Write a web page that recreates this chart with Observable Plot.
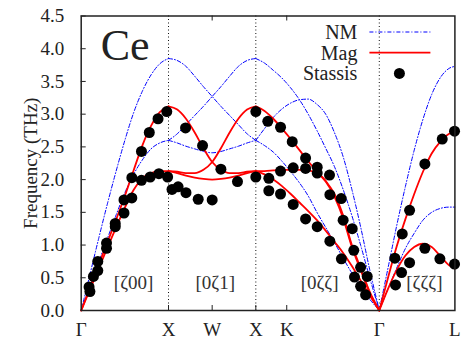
<!DOCTYPE html>
<html><head><meta charset="utf-8">
<script src="https://cdn.jsdelivr.net/npm/d3@7"></script>
<script src="https://cdn.jsdelivr.net/npm/@observablehq/plot@0.6"></script>
<style>
body{margin:0;background:#fff}
#chart{position:absolute;left:0;top:0}
#chart svg, #chart svg text{font-family:"Liberation Serif","Times New Roman",serif}
</style>
</head><body><div id="chart"></div>
<script>
const FONT = "Liberation Serif, Times New Roman, serif";

// high-symmetry points along the path (Γ-X-W-X-K-Γ-L)
const symLabels = ["Γ","X","W","X","K","Γ","L"];
const symPos    = [0, 1, 1.5, 2, 2.354, 3.414, 4.280];
const dottedPos = [1, 2, 3.414];
const bottomTickPos = [1, 1.5, 2, 2.354];
const topTickPos = [1.5, 2.354];
const yTicks = [0,0.5,1,1.5,2,2.5,3,3.5,4,4.5];

// direction labels
const dirLabels = ["[ζ00]","[0ζ1]","[0ζζ]","[ζζζ]"];
const dirPos    = [0.6, 1.535, 2.73, 3.93];

// Γ-X
const qGX     = [0,0.1,0.2,0.3,0.4,0.5,0.6,0.7,0.8,0.9,1.0];
const nmGX_L  = [0,0.55,1.1,1.63,2.13,2.6,3.02,3.35,3.6,3.77,3.85];
const nmGX_T  = [0,0.37,0.74,1.1,1.46,1.8,2.08,2.3,2.47,2.56,2.6];
const magGX_L = [0,0.35,0.7,1.04,1.39,1.75,2.14,2.52,2.82,3.03,3.12];
const magGX_T = [0,0.32,0.64,0.96,1.27,1.57,1.84,2.02,2.1,2.13,2.13];

// X-W-X
const qXWX     = [1.0,1.1,1.2,1.3,1.4,1.5,1.6,1.7,1.8,1.9,2.0];
const nmXWX_A  = [3.85,3.82,3.73,3.58,3.42,3.27,3.12,2.98,2.84,2.7,2.6];
const nmXWX_B  = [2.6,2.7,2.84,2.98,3.12,3.27,3.42,3.58,3.73,3.82,3.85];
const nmXWX_C  = [2.6,2.56,2.51,2.47,2.43,2.41,2.43,2.47,2.51,2.56,2.6];
const magXWX_P = [3.12,3.07,2.93,2.72,2.48,2.27,2.15,2.1,2.1,2.12,2.13];
const magXWX_Q = [2.13,2.12,2.1,2.1,2.15,2.27,2.48,2.72,2.93,3.07,3.12];
const magXWX_R = [2.13,2.1,2.06,2.03,2.01,2.0,2.01,2.03,2.06,2.1,2.13];

// X-K-Γ
const qXG     = [2.0,2.1,2.2,2.3,2.4,2.5,2.6,2.7,2.8,2.9,3.0,3.1,3.2,3.3,3.414];
const nmXG_a  = [3.85,3.78,3.67,3.55,3.4,3.22,3.0,2.75,2.48,2.2,1.85,1.45,1.0,0.52,0];
const nmXG_b  = [2.6,2.78,2.95,3.08,3.17,3.22,3.23,3.15,3.0,2.72,2.35,1.85,1.28,0.65,0];
const nmXG_c  = [2.6,2.52,2.42,2.28,2.12,1.95,1.75,1.5,1.27,1.04,0.8,0.57,0.36,0.18,0];
const magXG_a = [3.12,3.05,2.93,2.78,2.62,2.45,2.28,2.12,1.98,1.78,1.45,1.0,0.65,0.3,0];
const magXG_b = [2.13,2.13,2.14,2.15,2.15,2.15,2.14,2.1,1.97,1.74,1.41,0.97,0.62,0.28,0];
const magXG_c = [2.13,2.08,2.0,1.9,1.78,1.65,1.52,1.38,1.22,1.05,0.88,0.68,0.46,0.24,0];

// Γ-L
const qGL     = [3.414,3.514,3.614,3.714,3.814,3.914,4.014,4.114,4.214,4.280];
const nmGL_L  = [0,0.65,1.3,1.9,2.45,2.92,3.3,3.56,3.7,3.73];
const nmGL_T  = [0,0.33,0.65,0.95,1.18,1.38,1.5,1.56,1.58,1.58];
const magGL_L = [0,0.5,0.98,1.4,1.78,2.12,2.4,2.58,2.7,2.73];
const magGL_T = [0,0.33,0.62,0.84,0.97,1.02,0.97,0.83,0.69,0.64];

// Stassis experimental points
const expQ = [0.09,0.10,0.14,0.19,0.19,0.29,0.29,0.39,0.39,0.49,0.49,0.58,0.58,0.69,0.79,0.89,0.99,0.69,0.78,0.88,0.98,
  1.04,1.11,1.2,1.34,1.5,1.195,1.39,1.60,1.79,2.0,2.0,
  2.137,2.283,2.417,2.57,2.703,2.703,2.844,2.57,2.428,2.283,2.149,2.149,2.283,2.428,2.57,2.703,2.848,2.98,3.13,3.2,3.257,2.848,2.978,3.0,3.104,3.122,3.2,3.276,
  4.276,4.135,3.936,3.761,3.677,3.592,3.669,3.6,3.761,3.936,4.108,4.276];
const expF = [0.36,0.29,0.52,0.61,0.75,0.95,1.03,1.28,1.33,1.49,1.69,1.72,2.03,1.99,2.04,2.09,2.04,2.43,2.72,2.93,3.04,
  1.85,1.89,1.80,1.70,1.69,2.79,2.52,2.16,1.97,3.04,2.04,
  2.89,2.80,2.58,2.33,2.19,2.10,2.07,2.17,2.18,2.13,2.02,1.83,1.78,1.62,1.40,1.28,1.06,0.79,0.51,0.37,0.24,1.77,1.71,1.38,1.25,0.92,0.66,0.52,
  2.74,2.62,2.24,1.53,1.17,0.80,0.58,0.39,0.73,0.95,0.79,0.71];

function rows(q, vals, branch) { return q.map((x, i) => ({q: x, f: vals[i], branch})); }
const nmRows = [
  ...rows(qGX, nmGX_L, "GX_L"), ...rows(qGX, nmGX_T, "GX_T"),
  ...rows(qXWX, nmXWX_A, "XWX_A"), ...rows(qXWX, nmXWX_B, "XWX_B"), ...rows(qXWX, nmXWX_C, "XWX_C"),
  ...rows(qXG, nmXG_a, "XG_a"), ...rows(qXG, nmXG_b, "XG_b"), ...rows(qXG, nmXG_c, "XG_c"),
  ...rows(qGL, nmGL_L, "GL_L"), ...rows(qGL, nmGL_T, "GL_T")
];
const magRows = [
  ...rows(qGX, magGX_L, "GX_L"), ...rows(qGX, magGX_T, "GX_T"),
  ...rows(qXWX, magXWX_P, "XWX_P"), ...rows(qXWX, magXWX_Q, "XWX_Q"), ...rows(qXWX, magXWX_R, "XWX_R"),
  ...rows(qXG, magXG_a, "XG_a"), ...rows(qXG, magXG_b, "XG_b"), ...rows(qXG, magXG_c, "XG_c"),
  ...rows(qGL, magGL_L, "GL_L"), ...rows(qGL, magGL_T, "GL_T")
];
const expRows = expQ.map((q, i) => ({q, f: expF[i]}));

const NM_COLOR = "#0000ff", MAG_COLOR = "#ff0000";
const NM_DASH = "4,2,1,2";
const legendItems = [
  {label: "NM", kind: "line", stroke: NM_COLOR, width: 1, dash: NM_DASH},
  {label: "Mag", kind: "line", stroke: MAG_COLOR, width: 1.8, dash: null},
  {label: "Stassis", kind: "dot"}
];

function legendMark(index, scales, values, dimensions) {
  const right = dimensions.width - dimensions.marginRight;
  const top = dimensions.marginTop;
  const g = d3.create("svg:g").attr("font-family", FONT).attr("font-size", 20).attr("fill", "#222");
  legendItems.forEach((it, i) => {
    const y = top + 16.5 + i * 20.7;
    g.append("text").attr("x", right - 97).attr("y", y).attr("dy", "0.35em")
      .attr("text-anchor", "end").text(it.label);
    if (it.kind === "line") {
      const l = g.append("line").attr("x1", right - 85).attr("x2", right - 24)
        .attr("y1", y).attr("y2", y).attr("stroke", it.stroke).attr("stroke-width", it.width);
      if (it.dash) l.attr("stroke-dasharray", it.dash);
    } else {
      g.append("circle").attr("cx", right - 55).attr("cy", y).attr("r", 5.5).attr("fill", "black");
    }
  });
  return g.node();
}

const W = 463, H = 341, mL = 80.7, mR = 8.6, mT = 15.5, mB = 31;
const plotW = W - mL - mR, plotH = H - mT - mB;

const chart = Plot.plot({
  width: W, height: H,
  marginLeft: mL, marginRight: mR, marginTop: mT, marginBottom: mB,
  style: {fontFamily: FONT, color: "#222", background: "white"},
  x: {domain: [0, symPos[symPos.length - 1]]},
  y: {domain: [0, 4.5]},
  marks: [
    Plot.ruleX(dottedPos, {x: d => d, stroke: "#111", strokeWidth: 1, strokeDasharray: "1,2.5"}),
    Plot.tickX(bottomTickPos, {x: d => d, insetTop: plotH - 5, stroke: "#222"}),
    Plot.tickX(topTickPos, {x: d => d, insetBottom: plotH - 5, stroke: "#222"}),
    Plot.tickY(yTicks, {y: d => d, insetRight: plotW - 5, stroke: "#222"}),
    Plot.axisY({ticks: yTicks, tickFormat: d3.format(".1f"), tickSize: 0, tickPadding: 17, fontSize: 19, fontFamily: FONT,
      label: "Frequency (THz)", labelAnchor: "center", labelArrow: "none", labelOffset: 58}),
    Plot.axisX({ticks: symPos, tickFormat: d => symLabels[symPos.indexOf(d)], tickSize: 0, tickPadding: 12,
      fontSize: 19, fontFamily: FONT, label: null}),
    Plot.line(nmRows, {x: "q", y: "f", z: "branch", stroke: NM_COLOR, strokeWidth: 1, strokeDasharray: NM_DASH, curve: "monotone-x"}),
    Plot.line(magRows, {x: "q", y: "f", z: "branch", stroke: MAG_COLOR, strokeWidth: 1.8, curve: "monotone-x"}),
    Plot.dot(expRows, {x: "q", y: "f", r: 5.5, fill: "black"}),
    Plot.text(dirLabels, {x: (d, i) => dirPos[i], frameAnchor: "bottom", dy: -22, text: d => d, fontSize: 19, fontFamily: FONT, fill: "#333"}),
    Plot.text(["Ce"], {frameAnchor: "top-left", dx: 19.5, dy: 12.5, lineAnchor: "top", textAnchor: "start", text: d => d, fontSize: 44, fontFamily: FONT, fill: "#222"}),
    legendMark,
    Plot.frame({stroke: "#222", strokeWidth: 1.5})
  ]
});
document.getElementById("chart").appendChild(chart);
</script>
</body></html>
